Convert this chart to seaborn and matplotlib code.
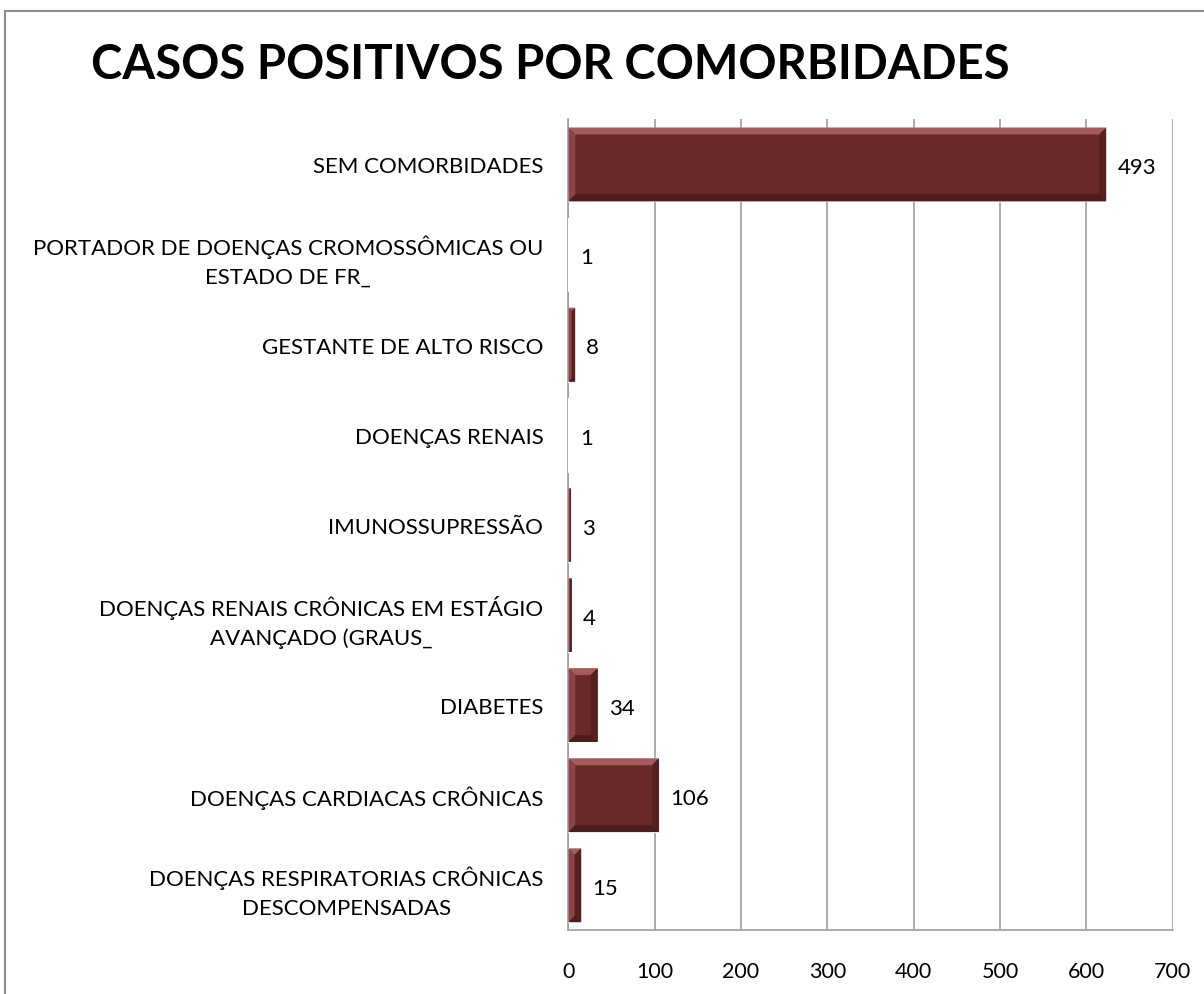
# horizontal bar chart: positive cases by comorbidity
import matplotlib
matplotlib.use("Agg")
import matplotlib.pyplot as plt
from matplotlib.patches import Polygon, Rectangle
import pandas as pd
import seaborn as sns

# data (listed top to bottom as in the picture)
categories = [
    "SEM COMORBIDADES",
    "PORTADOR DE DOENÇAS CROMOSSÔMICAS OU\nESTADO DE FR_",
    "GESTANTE DE ALTO RISCO",
    "DOENÇAS RENAIS",
    "IMUNOSSUPRESSÃO",
    "DOENÇAS RENAIS CRÔNICAS EM ESTÁGIO\nAVANÇADO (GRAUS_",
    "DIABETES",
    "DOENÇAS CARDIACAS CRÔNICAS",
    "DOENÇAS RESPIRATORIAS CRÔNICAS\nDESCOMPENSADAS",
]
# bar lengths as drawn (the top bar is drawn longer than its label says)
bar_values = [623, 1, 8, 1, 3, 4, 34, 105, 15]
data_labels = ["493", "1", "8", "1", "3", "4", "34", "106", "15"]
x_ticks = [0, 100, 200, 300, 400, 500, 600, 700]

df = pd.DataFrame({"categoria": categories, "casos": bar_values})

sns.set_theme(style="white")
plt.rcParams["font.family"] = ["Lato", "DejaVu Sans"]
plt.rcParams["text.color"] = "black"

fig = plt.figure(figsize=(12.04, 9.95), dpi=100)
ax = fig.add_axes([0.472, 0.064, 0.502, 0.815])

bar_color = "#6B2A2A"
sns.barplot(data=df, x="casos", y="categoria", color=bar_color, saturation=1,
            width=0.82, orient="h", ax=ax, zorder=3)

ax.set_xlim(0, 700)
ax.set_xticks(x_ticks)
ax.set_xlabel("")
ax.set_ylabel("")
ax.grid(axis="x", color="#9E9E9E", linewidth=1.2, zorder=0)
ax.grid(axis="y", visible=False)
for side in ["top", "right"]:
    ax.spines[side].set_visible(False)
for side in ["left", "bottom"]:
    ax.spines[side].set_color("#9E9E9E")
    ax.spines[side].set_linewidth(1.2)
ax.tick_params(axis="x", length=0, pad=22, labelsize=15.5, colors="black")
ax.tick_params(axis="y", length=0, pad=18, labelsize=16, colors="black")
for lbl in ax.get_yticklabels():
    lbl.set_multialignment("center")
    lbl.set_linespacing(1.55)

# bevel effect on bars + value labels
fig.canvas.draw()
bev = 7
for patch, txt in zip(ax.patches, data_labels):
    bb = patch.get_window_extent()
    x0, y0, x1, y1 = bb.x0, bb.y0, bb.x1, bb.y1
    b = min(bev, (x1 - x0) / 2.0)
    if b > 0.5:
        faces = [
            ([(x0, y1), (x1, y1), (x1 - b, y1 - b), (x0 + b, y1 - b)], "#A35C5C"),
            ([(x0, y0), (x0, y1), (x0 + b, y1 - b), (x0 + b, y0 + b)], "#8A4444"),
            ([(x1, y0), (x1, y1), (x1 - b, y1 - b), (x1 - b, y0 + b)], "#552020"),
            ([(x0, y0), (x1, y0), (x1 - b, y0 + b), (x0 + b, y0 + b)], "#4F1C1C"),
        ]
        for pts, c in faces:
            fig.add_artist(Polygon(pts, closed=True, facecolor=c, edgecolor="none",
                                   transform=None, zorder=4))
    cy = patch.get_y() + patch.get_height() / 2
    ax.annotate(txt, xy=(patch.get_width(), cy), xytext=(8, -2),
                textcoords="offset points", va="center", ha="left",
                fontsize=16, color="black", zorder=5)

fig.suptitle("CASOS POSITIVOS POR COMORBIDADES", x=0.457, y=0.935,
             fontsize=34, fontweight="bold", va="center", color="black")

# chart area border
fig.add_artist(Rectangle((0.004, -0.05), 1.2, 1.038, transform=fig.transFigure,
                         fill=False, edgecolor="#8C8C8C", linewidth=1.5))

plt.savefig("out.png", dpi=100)
